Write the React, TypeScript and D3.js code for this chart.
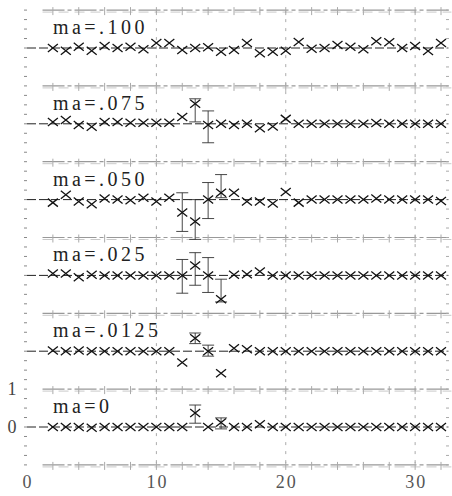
import React from 'react';
import * as d3 from 'd3';

const xValues = [2, 3, 4, 5, 6, 7, 8, 9, 10, 11, 12, 13, 14, 15, 16, 17, 18, 19, 20, 21, 22, 23, 24, 25, 26, 27, 28, 29, 30, 31, 32];

const panelLabels = ['ma=.100', 'ma=.075', 'ma=.050', 'ma=.025', 'ma=.0125', 'ma=0'];
const panelOffsets = [10, 8, 6, 4, 2, 0];

const ma100 = [0.0, -0.07, 0.03, -0.07, 0.05, 0, 0.03, -0.03, 0.13, 0.13, -0.05, 0, 0.02, -0.1, -0.05, 0.13, -0.14, -0.1, -0.07, 0.16, -0.02, 0, 0.08, 0.03, -0.03, 0.18, 0.15, 0, 0.05, -0.08, 0.13];
const ma075 = [0.05, 0.1, -0.03, -0.08, 0.05, 0.05, 0.03, 0.03, 0.03, 0.03, 0.18, 0.53, -0.03, 0, -0.03, 0, -0.12, -0.07, 0.13, 0, 0, 0, 0, 0, 0, 0.02, 0, 0, 0, 0, 0];
const ma050 = [-0.08, 0.13, -0.05, -0.12, 0.03, 0, -0.02, 0.05, -0.05, 0.05, -0.34, -0.58, 0, 0.18, 0.18, -0.05, -0.05, -0.1, 0.2, -0.08, 0, 0, 0, 0, 0, 0.03, 0, 0, 0, 0, -0.04];
const ma025 = [0.05, 0.05, -0.05, 0.02, 0, 0, 0, 0, 0, 0, 0, 0.26, 0, -0.63, 0.02, 0.03, 0.1, 0, 0, 0, 0, 0, 0, 0, 0, 0, 0, 0, 0, 0, 0];
const ma0125 = [0.02, 0, 0.02, 0, 0, 0, 0, 0, 0, 0, -0.3, 0.34, 0, -0.58, 0.08, 0.05, 0, 0, 0, 0, 0, 0, 0, 0, 0, 0, 0, 0, 0, 0, 0];
const ma0 = [0, 0, 0, -0.02, 0, 0, 0, 0, 0, 0, 0, 0.37, 0, 0.12, 0, 0, 0.07, 0, 0, 0, 0, 0, 0, 0, 0, 0, 0, 0, 0, 0, 0];

const panelSeries = [ma100, ma075, ma050, ma025, ma0125, ma0];

// error bars: panel index, x, low, high (relative to panel baseline)
const errPanel = [1, 1, 2, 2, 2, 2, 3, 3, 3, 3, 4, 4, 5, 5];
const errX = [13, 14, 12, 13, 14, 15, 12, 13, 14, 15, 13, 14, 13, 15];
const errLo = [0.05, -0.5, -0.84, -1.05, -0.5, 0.05, -0.47, -0.26, -0.45, -0.7, 0.2, -0.13, 0.1, -0.05];
const errHi = [0.66, 0.34, 0.18, 0, 0.45, 0.66, 0.42, 0.6, 0.47, -0.1, 0.48, 0.16, 0.58, 0.24];

const xTicks = [0, 10, 20, 30];
const yTicks = [0, 1];
const separatorLevels = [-1, 1, 3, 5, 7, 9, 11];
const minorX = [2, 4, 6, 8, 10, 12, 14, 16, 18, 20, 22, 24, 26, 28, 30, 32];
const gridX = [10, 20, 30];

export default function App() {
  const W = 452;
  const H = 496;
  const x = d3.scaleLinear().domain([0, 32]).range([27, 441]);
  const y = d3.scaleLinear().domain([0, 10]).range([427, 48]);
  const leftTicks = d3.range(-1, 11.01, 0.25);

  const serif = "'Liberation Serif', 'DejaVu Serif', serif";

  return (
    <svg width={W} height={H} style={{ position: 'absolute', left: 0, top: 0, background: '#fff' }}>
      {gridX.map((g) => (
        <line key={'g' + g} x1={x(g)} x2={x(g)} y1={y(11)} y2={y(-1)} stroke="#aaa" strokeWidth={1} strokeDasharray="3,6" />
      ))}
      {separatorLevels.map((lv) => (
        <g key={'s' + lv}>
          <line x1={x(1.2)} x2={x(32.8)} y1={y(lv)} y2={y(lv)} stroke="#999" strokeWidth={1.2} strokeDasharray="22,3,4,3" />
          <line x1={x(1.2)} x2={x(32.8)} y1={y(lv) + 2} y2={y(lv) + 2} stroke="#bbb" strokeWidth={0.8} strokeDasharray="10,6" />
          {minorX.map((m) => (
            <line key={m} x1={x(m)} x2={x(m)} y1={y(lv) - 3} y2={y(lv) + 5} stroke="#aaa" strokeWidth={1} />
          ))}
        </g>
      ))}
      {leftTicks.map((t, i) => (
        <g key={'lt' + i}>
          <line x1={24} x2={27} y1={y(t)} y2={y(t)} stroke="#888" strokeWidth={1} />
          <line x1={446} x2={449} y1={y(t)} y2={y(t)} stroke="#aaa" strokeWidth={1} />
        </g>
      ))}
      {panelOffsets.map((o, i) => (
        <line key={'b' + i} x1={x(0)} x2={x(32.5)} y1={y(o)} y2={y(o)} stroke="#222" strokeWidth={1} strokeDasharray="9,3" />
      ))}
      {errPanel.map((p, i) => {
        const cx = x(errX[i]);
        const y1 = y(panelOffsets[p] + errHi[i]);
        const y2 = y(panelOffsets[p] + errLo[i]);
        return (
          <g key={'e' + i} stroke="#333" strokeWidth={0.9}>
            <line x1={cx} x2={cx} y1={y1} y2={y2} />
            <line x1={cx - 6} x2={cx + 6} y1={y1} y2={y1} />
            <line x1={cx - 6} x2={cx + 6} y1={y2} y2={y2} />
          </g>
        );
      })}
      {panelSeries.map((series, p) => (
        <g key={'p' + p}>
          {series.map((v, i) => {
            const cx = x(xValues[i]);
            const cy = y(panelOffsets[p] + v);
            return (
              <path
                key={i}
                d={`M${cx - 5},${cy - 4}L${cx + 5},${cy + 4}M${cx - 5},${cy + 4}L${cx + 5},${cy - 4}`}
                stroke="#111"
                strokeWidth={1.3}
                fill="none"
              />
            );
          })}
        </g>
      ))}
      {panelLabels.map((lab, p) => (
        <text
          key={'l' + p}
          x={x(2)}
          y={y(panelOffsets[p]) - 14}
          fontFamily={serif}
          fontSize={20}
          letterSpacing={3.5}
          fill="#222"
        >
          {lab}
        </text>
      ))}
      {xTicks.map((t) => (
        <text key={'xt' + t} x={x(t) + 1} y={488} textAnchor="middle" fontFamily={serif} fontSize={18} letterSpacing={2} fill="#555">
          {t}
        </text>
      ))}
      {yTicks.map((t) => (
        <text key={'yt' + t} x={12} y={y(t) + 6} textAnchor="middle" fontFamily={serif} fontSize={18} fill="#444">
          {t}
        </text>
      ))}
    </svg>
  );
}
